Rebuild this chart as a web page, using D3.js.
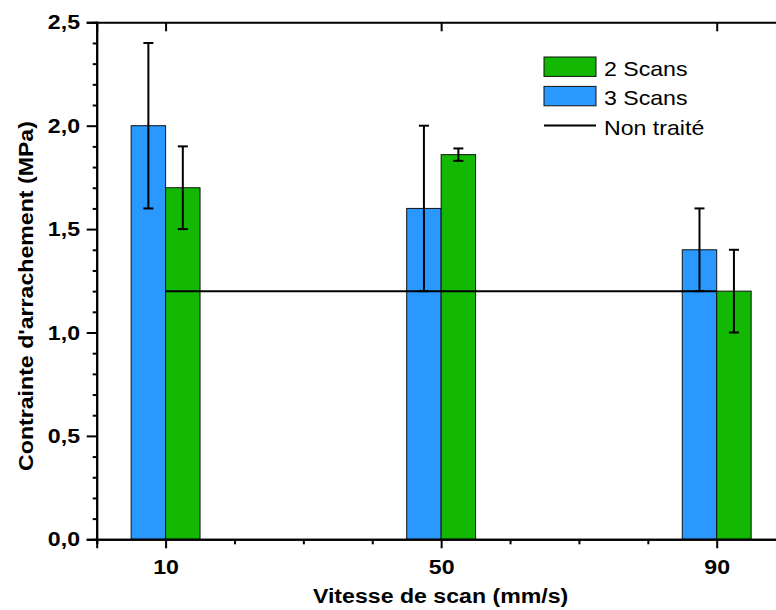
<!DOCTYPE html>
<html>
<head>
<meta charset="utf-8">
<script src="https://cdn.jsdelivr.net/npm/d3@7"></script>
<style>
  body { margin: 0; background: #fff; }
  svg { display: block; font-family: "Liberation Sans", Arial, sans-serif; }
</style>
</head>
<body>
<div id="chart"></div>
<script>
// Data.
const categories = [10, 50, 90];
const scans3 = [2.0, 1.6, 1.4];
const scans3Err = [0.4, 0.4, 0.2];
const scans2 = [1.7, 1.86, 1.2];
const scans2Err = [0.2, 0.03, 0.2];
const nonTraite = [1.2, 1.2, 1.2];
const yMajorTicks = [0, 0.5, 1.0, 1.5, 2.0, 2.5];

const width = 776, height = 610;
const blue = '#2999ff', green = '#13b802';
const barW = 5;
const fontSize = '20.3px';
// The glyphs in the original are a bit wider than Arial at the same height.
const widen = 1.14;

const svg = d3.select('#chart').append('svg')
    .attr('width', width)
    .attr('height', height);

// Scales.
const x = d3.scaleLinear().domain([0, 100]).range([96.7, 785.6]);
const y = d3.scaleLinear().domain([0, 2.5]).range([539.3, 22.3]);
const fmt = d => d3.format('.1f')(d).replace('.', ',');

// Bars.
const rows = categories.map((c, i) => ({c, s3: scans3[i], e3: scans3Err[i], s2: scans2[i], e2: scans2Err[i]}));
svg.append('g').selectAll('rect')
    .data(rows)
    .join('rect')
        .attr('x', d => x(d.c - barW))
        .attr('y', d => y(d.s3))
        .attr('width', d => x(d.c) - x(d.c - barW))
        .attr('height', d => y(0) - y(d.s3))
        .attr('fill', blue)
        .attr('stroke', '#111')
        .attr('stroke-width', 1);
svg.append('g').selectAll('rect')
    .data(rows)
    .join('rect')
        .attr('x', d => x(d.c))
        .attr('y', d => y(d.s2))
        .attr('width', d => x(d.c + barW) - x(d.c))
        .attr('height', d => y(0) - y(d.s2))
        .attr('fill', green)
        .attr('stroke', '#111')
        .attr('stroke-width', 1);

// Non traité line.
svg.append('path')
    .datum(categories.map((c, i) => [c, nonTraite[i]]))
    .attr('fill', 'none')
    .attr('stroke', '#000')
    .attr('stroke-width', 2)
    .attr('d', d3.line().x(d => x(d[0])).y(d => y(d[1])));

// Error bars.
const errs = [];
rows.forEach(d => {
    errs.push({cx: d.c - barW / 2, v: d.s3, e: d.e3});
    errs.push({cx: d.c + barW / 2, v: d.s2, e: d.e2});
});
const eg = svg.append('g').attr('stroke', '#000').attr('stroke-width', 2);
errs.forEach(d => {
    const cx = x(d.cx);
    eg.append('line').attr('x1', cx).attr('x2', cx).attr('y1', y(d.v + d.e)).attr('y2', y(d.v - d.e));
    eg.append('line').attr('x1', cx - 5).attr('x2', cx + 5).attr('y1', y(d.v + d.e)).attr('y2', y(d.v + d.e));
    eg.append('line').attr('x1', cx - 5).attr('x2', cx + 5).attr('y1', y(d.v - d.e)).attr('y2', y(d.v - d.e));
});

// Axes.
const yMinor = d3.range(0, 2.51, 0.1).filter(v => Math.abs(v * 2 - Math.round(v * 2)) > 1e-6);
const leftAxis = svg.append('g').attr('transform', `translate(${x(0)},0)`);
leftAxis.call(d3.axisLeft(y).tickValues(yMinor).tickSize(4).tickFormat(''));
leftAxis.call(g => g.append('g').call(d3.axisLeft(y).tickValues(yMajorTicks).tickSize(10).tickPadding(6.7).tickFormat(fmt)));

const rightAxis = svg.append('g').attr('transform', `translate(${x(100)},0)`);
rightAxis.call(d3.axisLeft(y).tickValues(yMajorTicks).tickSize(-9).tickFormat(''));

const xMinor = d3.range(0, 101, 10).filter(v => !categories.includes(v));
const bottomAxis = svg.append('g').attr('transform', `translate(0,${y(0)})`);
bottomAxis.call(d3.axisBottom(x).tickValues(xMinor).tickSize(5).tickFormat(''));
bottomAxis.call(g => g.append('g').call(d3.axisBottom(x).tickValues(categories).tickSize(9).tickFormat(d3.format('d'))));
bottomAxis.selectAll('.tick text').attr('y', 35).attr('dy', null);

const topAxis = svg.append('g').attr('transform', `translate(0,${y(2.5)})`);
topAxis.call(d3.axisTop(x).tickValues(categories).tickSize(-9).tickFormat(''));

svg.selectAll('.domain').attr('stroke', '#000').attr('stroke-width', 2);
svg.selectAll('.tick line').attr('stroke', '#000').attr('stroke-width', 2);
svg.selectAll('.tick text')
    .attr('fill', '#000')
    .style('font-size', fontSize)
    .style('font-weight', 'bold')
    .style('font-family', '"Liberation Sans", Arial, sans-serif');

// Axis titles.
svg.append('text')
    .attr('transform', `translate(32.5,296) rotate(-90)`)
    .attr('text-anchor', 'middle')
    .style('font-size', fontSize)
    .style('font-weight', 'bold')
    .text("Contrainte d'arrachement (MPa)");
svg.append('text')
    .attr('x', 440.6)
    .attr('y', 602.7)
    .attr('text-anchor', 'middle')
    .style('font-size', fontSize)
    .style('font-weight', 'bold')
    .text('Vitesse de scan (mm/s)');

// Legend.
const legend = svg.append('g').attr('transform', 'translate(544,57)');
const items = [
    {label: '2 Scans', type: 'rect', color: green},
    {label: '3 Scans', type: 'rect', color: blue},
    {label: 'Non traité', type: 'line'}
];
items.forEach((it, i) => {
    const g = legend.append('g').attr('transform', `translate(0,${i * 29.4})`);
    if (it.type === 'rect') {
        g.append('rect')
            .attr('width', 52).attr('height', 19.4)
            .attr('fill', it.color).attr('stroke', '#111').attr('stroke-width', 1);
    } else {
        g.append('line')
            .attr('x1', 0).attr('x2', 52).attr('y1', 9.7).attr('y2', 9.7)
            .attr('stroke', '#000').attr('stroke-width', 2);
    }
    g.append('text')
        .attr('x', 60).attr('y', 19)
        .style('font-size', fontSize)
        .text(it.label);
});

// Stretch every label a little along its own direction.
svg.selectAll('text').each(function() {
    const len = this.getComputedTextLength();
    if (len > 0) {
        d3.select(this)
            .attr('textLength', len * widen)
            .attr('lengthAdjust', 'spacingAndGlyphs');
    }
});
</script>
</body>
</html>
